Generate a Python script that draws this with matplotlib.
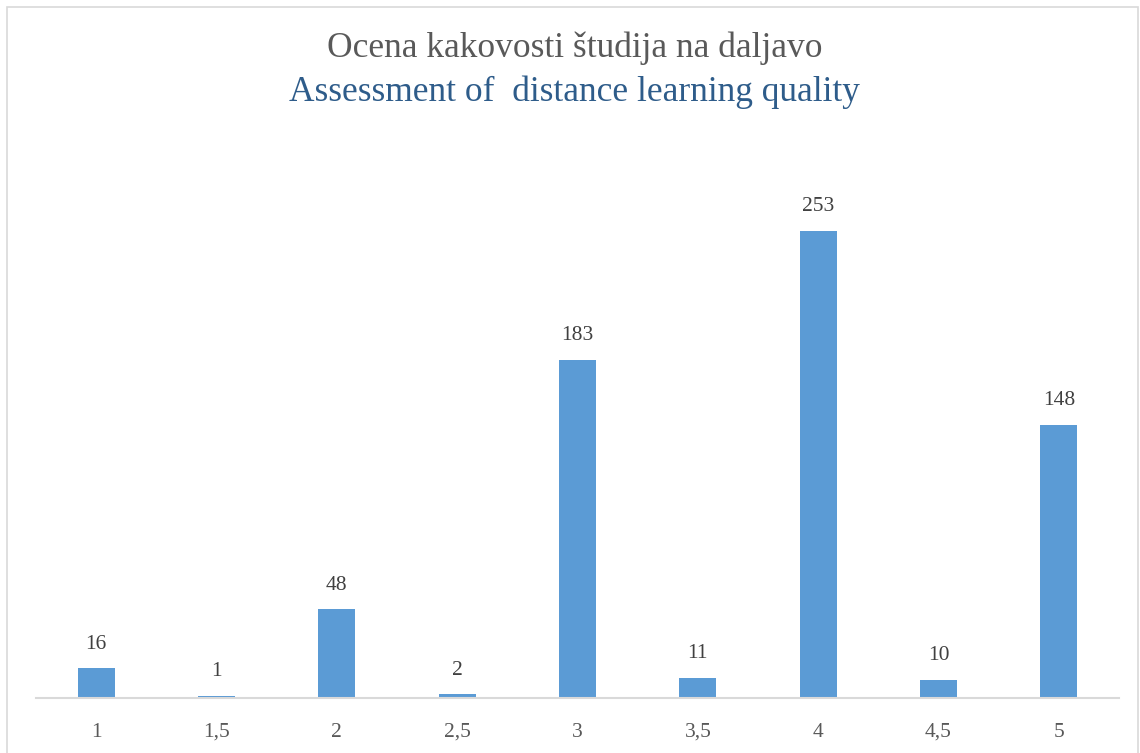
import matplotlib.pyplot as plt
from matplotlib.patches import Rectangle

# ocene in stevilo odgovorov
categories = ['1', '1,5', '2', '2,5', '3', '3,5', '4', '4,5', '5']
counts = [16, 1, 48, 2, 183, 11, 253, 10, 148]

plt.rcParams['font.family'] = ['Liberation Serif', 'DejaVu Serif']

fig = plt.figure(figsize=(11.4, 7.53), dpi=100)
ax = fig.add_axes([36 / 1140, 1 - 698 / 753, 1083 / 1140, 554 / 753])

x = range(len(categories))
bars = ax.bar(x, counts, width=0.31, color='#5B9BD5', zorder=2)
for b, v in zip(bars, counts):
    ax.text(b.get_x() + b.get_width() / 2, v + 8, str(v), ha='center', va='bottom',
            fontsize=15.5, color='#404040')

ax.set_xlim(-0.5, len(categories) - 0.5)
ax.set_ylim(0, 300)
ax.set_xticks(list(x))
ax.set_xticklabels(categories, fontsize=15.5, color='#595959')
ax.tick_params(axis='x', length=0, pad=18)
ax.set_yticks([])
for s in ['top', 'right', 'left']:
    ax.spines[s].set_visible(False)
ax.spines['bottom'].set_color('#D9D9D9')
ax.spines['bottom'].set_linewidth(1.5)

fig.text(0.504, 1 - 48 / 753, 'Ocena kakovosti študija na daljavo', ha='center', va='center',
         fontsize=25.5, color='#595959')
fig.text(0.504, 1 - 92 / 753, 'Assessment of  distance learning quality', ha='center', va='center',
         fontsize=25.5, color='#2E5C8A')

# okvir grafa
fig.patches.append(Rectangle((7 / 1140, -0.01), 1131 / 1140, 1 - 7 / 753 + 0.01,
                             transform=fig.transFigure, fill=False, edgecolor='#D9D9D9', linewidth=1.2))

fig.savefig('out.png', dpi=100)
